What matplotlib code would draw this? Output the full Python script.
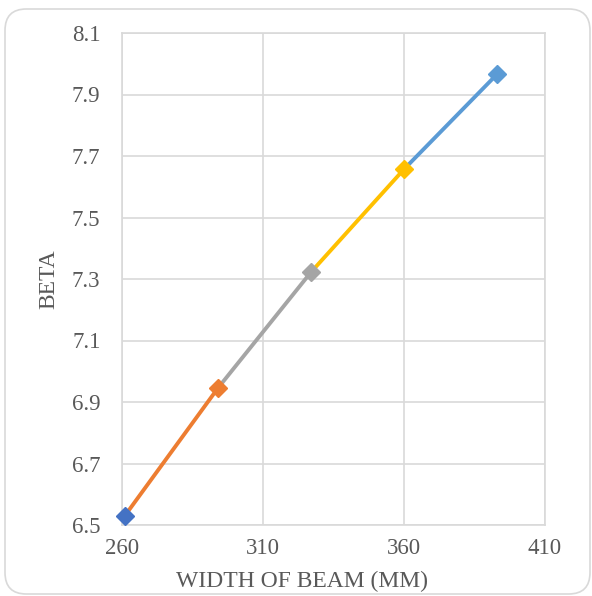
import matplotlib
matplotlib.use("Agg")
import matplotlib.pyplot as plt
from matplotlib.patches import FancyBboxPatch

# Beam width (mm) and the resulting beta values
width_mm = [261, 294, 327, 360, 393]
beta = [6.53, 6.945, 7.322, 7.657, 7.966]

x_ticks = [260, 310, 360, 410]
y_ticks = [6.5, 6.7, 6.9, 7.1, 7.3, 7.5, 7.7, 7.9, 8.1]
y_tick_labels = ["6.5", "6.7", "6.9", "7.1", "7.3", "7.5", "7.7", "7.9", "8.1"]

# Each segment is drawn in the colour of its end marker
marker_colors = ["#4472C4", "#ED7D31", "#A5A5A5", "#FFC000", "#5B9BD5"]

plt.rcParams["font.family"] = ["Liberation Serif", "DejaVu Serif"]

W, H = 592, 596
fig = plt.figure(figsize=(W / 100, H / 100), dpi=100)
fig.patch.set_facecolor("white")

# rounded chart border
border = FancyBboxPatch((5 / W, 2 / H), 585 / W, 585 / H,
                        boxstyle="round,pad=0,rounding_size=0.036",
                        transform=fig.transFigure, facecolor="none",
                        edgecolor="#D9D9D9", linewidth=1.2, zorder=-10)
fig.patches.append(border)

ax = fig.add_axes([122 / W, 1 - 525 / H, 423 / W, 492 / H])
ax.set_facecolor("white")

for i in range(1, len(width_mm)):
    ax.plot(width_mm[i - 1:i + 1], beta[i - 1:i + 1], color=marker_colors[i],
            linewidth=2.8, solid_capstyle="butt", zorder=3)
for i in range(len(width_mm)):
    ax.plot(width_mm[i], beta[i], marker="D", markersize=9,
            color=marker_colors[i], markeredgecolor=marker_colors[i],
            zorder=4, clip_on=False)

ax.set_xlim(260, 410)
ax.set_ylim(6.5, 8.1)
ax.set_xticks(x_ticks)
ax.set_yticks(y_ticks)
ax.set_yticklabels(y_tick_labels)
ax.grid(True, color="#D9D9D9", linewidth=1.2)
ax.set_axisbelow(True)
for s in ax.spines.values():
    s.set_color("#D9D9D9")
    s.set_linewidth(1.2)
ax.tick_params(axis="y", length=0, labelsize=16.5, colors="#595959", pad=15.5)
ax.tick_params(axis="x", length=0, labelsize=16.5, colors="#595959", pad=9)

fig.text(302 / W, 1 - 581 / H, "WIDTH OF BEAM (MM)", fontsize=17,
         color="#595959", ha="center", va="center")
fig.text(49 / W, 1 - 279 / H, "BETA", fontsize=17, color="#595959",
         ha="center", va="center", rotation=90)

fig.savefig("out.png", dpi=100, facecolor="white")
